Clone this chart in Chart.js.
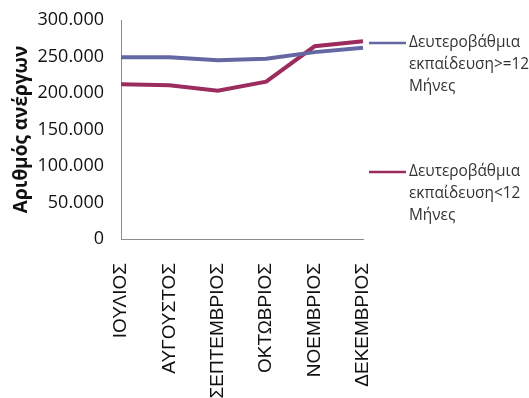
<!DOCTYPE html>
<html><head><meta charset="utf-8">
<script src="https://cdn.jsdelivr.net/npm/chart.js@4"></script>
<style>html,body{margin:0;padding:0;background:#fff;overflow:hidden}#wrap{width:529px;height:398px}</style>
</head><body><div id="wrap"><canvas id="c"></canvas></div>
<script>
const categories = ["ΙΟΥΛΙΟΣ","ΑΥΓΟΥΣΤΟΣ","ΣΕΠΤΕΜΒΡΙΟΣ","ΟΚΤΩΒΡΙΟΣ","ΝΟΕΜΒΡΙΟΣ","ΔΕΚΕΜΒΡΙΟΣ"];
const seriesNames = [["Δευτεροβάθμια","εκπαίδευση>=12","Μήνες"],["Δευτεροβάθμια","εκπαίδευση<12","Μήνες"]];
const longTerm = [249000, 249000, 245000, 247000, 256000, 262000];
const shortTerm = [212000, 210500, 203000, 215500, 264000, 271000];
const yTicks = [0, 50000, 100000, 150000, 200000, 250000, 300000];
const yTitle = "Αριθμός ανέργων";
const colors = ["#6467a2", "#9c2b5e"];

const fmt = v => String(v).replace(/\B(?=(\d{3})+(?!\d))/g, ".");

const legendPlugin = {
  id: 'sideLegend',
  afterDraw(chart) {
    const ctx = chart.ctx;
    const tops = [43, 172];
    chart.data.datasets.forEach((ds, i) => {
      const y = tops[i];
      ctx.save();
      ctx.strokeStyle = ds.borderColor;
      ctx.lineWidth = 2.5;
      ctx.beginPath(); ctx.moveTo(369, y); ctx.lineTo(406, y); ctx.stroke();
      ctx.fillStyle = "#333";
      ctx.font = "15.4px 'Open Sans'";
      ctx.textBaseline = "middle";
      ctx.textAlign = "left";
      seriesNames[i].forEach((t, k) => ctx.fillText(t, 409, y + k * 22));
      ctx.restore();
    });
  }
};

new Chart(document.getElementById('c'), {
  type: 'line',
  data: {
    labels: categories,
    datasets: [
      { label: seriesNames[0].join(" "), data: longTerm, borderColor: colors[0], backgroundColor: colors[0], borderWidth: 4, pointRadius: 0, tension: 0 },
      { label: seriesNames[1].join(" "), data: shortTerm, borderColor: colors[1], backgroundColor: colors[1], borderWidth: 4, pointRadius: 0, tension: 0 }
    ]
  },
  options: {
    responsive: true, maintainAspectRatio: false, animation: false,
    layout: { padding: { left: 10, right: 166, top: 20, bottom: 0 } },
    plugins: { legend: { display: false }, tooltip: { enabled: false } },
    scales: {
      x: {
        offset: false,
        afterFit: axis => { axis.height = 159; },
        grid: { display: false, drawTicks: true, tickLength: 24 },
        border: { display: true, color: "#8c8c8c", width: 1 },
        ticks: { autoSkip: false, maxRotation: 90, minRotation: 90, padding: 0, color: "#111", font: { family: "'Liberation Sans', Arial", size: 19 } }
      },
      y: {
        min: 0, max: 300000,
        afterBuildTicks: axis => { axis.ticks = yTicks.map(v => ({ value: v })); },
        afterFit: axis => { axis.width = 111; },
        grid: { display: false, drawTicks: true, tickLength: 17 },
        border: { display: true, color: "#8c8c8c", width: 1 },
        title: { display: true, text: yTitle, color: "#111", padding: 0, font: { family: "'Open Sans'", size: 19, weight: 'bold' } },
        ticks: { padding: 0, color: "#111", callback: v => fmt(v), font: { family: "'Open Sans'", size: 18 } }
      }
    }
  },
  plugins: [legendPlugin]
});
</script></body></html>
